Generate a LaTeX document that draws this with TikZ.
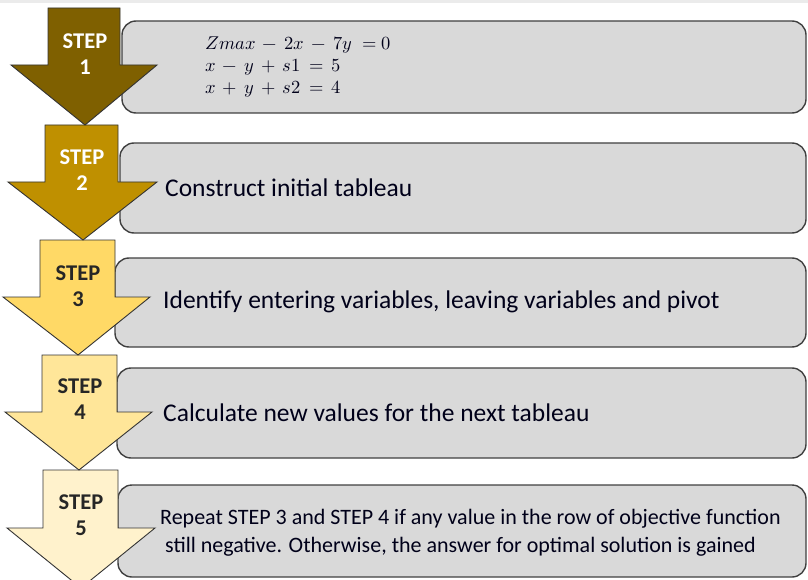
\documentclass[tikz,border=0pt]{standalone}
\usepackage{unicode-math}
\setmainfont{Carlito}
\setmathfont{Latin Modern Math}
\begin{document}
\begin{tikzpicture}[x=1pt,y=-1pt,
  stepbox/.style={draw=black!75,line width=1.4pt,fill=black!15,rounded corners=14pt},
  arrowshape/.style={draw=black!80,line width=0.9pt,line join=miter},
  steplabel/.style={font=\fontsize{22.5}{25}\selectfont\bfseries,align=center,inner sep=0pt},
  boxtext/.style={font=\fontsize{25.5}{30}\selectfont,anchor=west,inner sep=0pt,text=black!90!blue},
  eqtext/.style={font=\fontsize{18.5}{22}\selectfont,anchor=west,inner sep=0pt,text=black!90!blue}]
\useasboundingbox (0,0) rectangle (808,580);
\fill[black!8] (0,0) rectangle (808,3);
\definecolor{aone}{HTML}{7F6000}
\definecolor{atwo}{HTML}{BF9000}
\definecolor{athree}{HTML}{FFD966}
\definecolor{afour}{HTML}{FFE699}
\definecolor{afive}{HTML}{FFF2CC}
% boxes
\draw[stepbox] (122,21) rectangle (806,113);
\draw[stepbox] (120,143) rectangle (806,233);
\draw[stepbox] (115,258) rectangle (806,347);
\draw[stepbox] (117,368) rectangle (806,458);
\draw[stepbox] (118,485) rectangle (806,577);
% arrows (bottom first)
\draw[arrowshape,fill=afive] (43,470) -- (118,470) -- (118,528) -- (155,528) -- (81,588) -- (7,528) -- (43,528) -- cycle;
\draw[arrowshape,fill=afour] (42,355) -- (117,355) -- (117,412) -- (152,412) -- (79,470) -- (5,412) -- (42,412) -- cycle;
\draw[arrowshape,fill=athree] (40,240) -- (115,240) -- (115,297) -- (150,297) -- (78,355) -- (3,297) -- (40,297) -- cycle;
\draw[arrowshape,fill=atwo] (45,125) -- (118,125) -- (118,182) -- (157,182) -- (83,240) -- (8,182) -- (45,182) -- cycle;
\draw[arrowshape,fill=aone] (48,8) -- (120,8) -- (120,65) -- (157,65) -- (85,125) -- (11,65) -- (48,65) -- cycle;
% step labels
\node[steplabel,text=white] (s1) at (85,54) {STEP\\[1pt]1};
\node[steplabel,text=white] (s2) at (82,170) {STEP\\[1pt]2};
\node[steplabel,text=black!85] (s3) at (78,286) {STEP\\[1pt]3};
\node[steplabel,text=black!85] (s4) at (80,399) {STEP\\[1pt]4};
\node[steplabel,text=black!85] (s5) at (81,515) {STEP\\[1pt]5};
% texts
\node[eqtext] (e1) at (205,45) {$Zmax\,-\,2x\,-\,7y\;=0$};
\node[eqtext] (e2) at (205,67) {$x\,-\,y\,+\,s1\,=\,5$};
\node[eqtext] (e3) at (205,89) {$x\,+\,y\,+\,s2\,=\,4$};
\node[boxtext] (t2) at (165,188) {Construct initial tableau};
\node[boxtext] (t3) at (163,302) {Identify entering variables, leaving variables and pivot};
\node[boxtext] (t4) at (163,413) {Calculate new values for the next tableau};
\node[boxtext,font=\fontsize{22}{28}\selectfont,align=left] (t5) at (160,533) {Repeat STEP 3 and STEP 4 if any value in the row of objective function\\\ still negative. Otherwise, the answer for optimal solution is gained};
\end{tikzpicture}
\end{document}
